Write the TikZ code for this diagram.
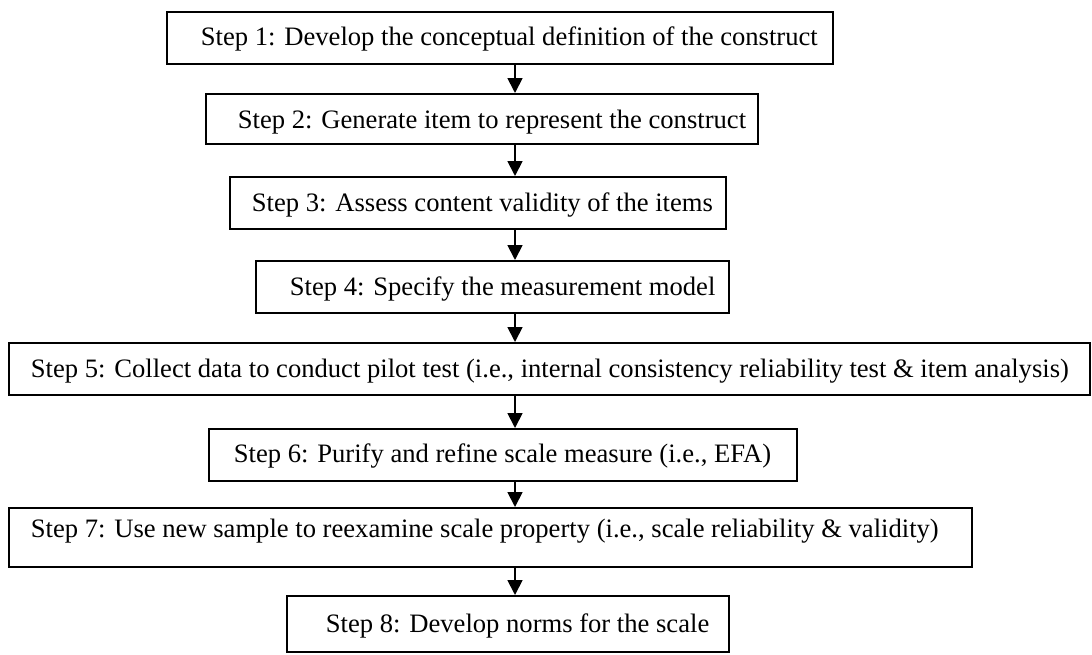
\documentclass[tikz,border=0pt]{standalone}
\usepackage{fontspec}
\setmainfont{Liberation Serif}
\usetikzlibrary{arrows.meta}
\begin{document}
\begin{tikzpicture}[x=0.5pt,y=-0.5pt,
  stepbox/.style={draw=black, line width=0.9pt, inner xsep=0pt, inner ysep=0pt,
    anchor=north west, font=\fontsize{13.3}{16}\selectfont},
  arr/.style={line width=0.9pt, -{Triangle[width=7.5pt,length=7.5pt]}}]
\useasboundingbox (0,0) rectangle (1092,654);
\node[stepbox, text height=17pt, text depth=9pt] (b1) at (166,11)
  {\makebox[333pt][l]{\hspace*{17pt}Step 1: Develop the conceptual definition of the construct}};
\node[stepbox, text height=17.5pt, text depth=7.5pt] (b2) at (205,93)
  {\makebox[276pt][l]{\hspace*{16pt}Step 2: Generate item to represent the construct}};
\node[stepbox, text height=17.5pt, text depth=8.5pt] (b3) at (229,176)
  {\makebox[248pt][l]{\hspace*{11pt}Step 3: Assess content validity of the items}};
\node[stepbox, text height=17.5pt, text depth=8.5pt] (b4) at (255,260)
  {\makebox[236.5pt][l]{\hspace*{17pt}Step 4: Specify the measurement model}};
\node[stepbox, text height=17.5pt, text depth=8.5pt] (b5) at (8,342)
  {\makebox[540.5pt][l]{\hspace*{11pt}Step 5: Collect data to conduct pilot test (i.e., internal consistency reliability test \& item analysis)}};
\node[stepbox, text height=17pt, text depth=9pt] (b6) at (208,428)
  {\makebox[294pt][l]{\hspace*{12.5pt}Step 6: Purify and refine scale measure (i.e., EFA)}};
\node[stepbox, text height=15pt, text depth=14.5pt] (b7) at (8,507)
  {\makebox[481.5pt][l]{\hspace*{11pt}Step 7: Use new sample to reexamine scale property (i.e., scale reliability \& validity)}};
\node[stepbox, text height=18.5pt, text depth=9.5pt] (b8) at (286,595)
  {\makebox[221pt][l]{\hspace*{19.5pt}Step 8: Develop norms for the scale}};
\coordinate (ax) at (515,0);
\foreach \a/\b in {b1/b2,b2/b3,b3/b4,b4/b5,b5/b6,b6/b7,b7/b8}
  \draw[arr] (\a.south -| ax) -- (\b.north -| ax);
\end{tikzpicture}
\end{document}
